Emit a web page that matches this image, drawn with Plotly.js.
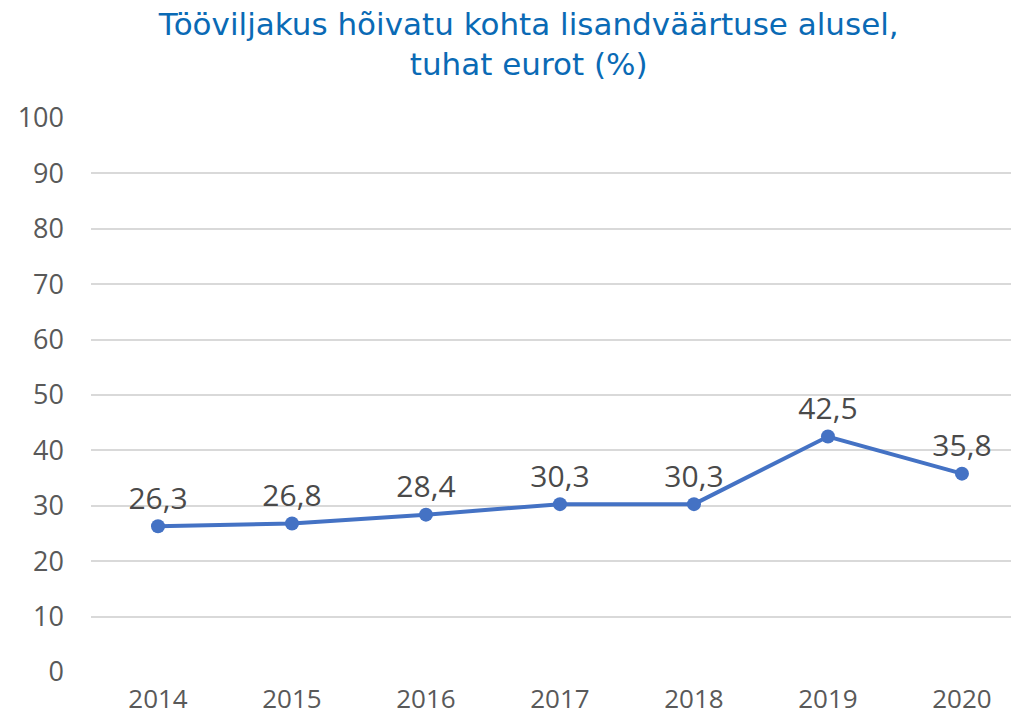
<!DOCTYPE html>
<html>
<head>
<meta charset="utf-8">
<script src="https://cdn.plot.ly/plotly-3.0.1.min.js"></script>
<style>html,body{margin:0;padding:0;background:#fff;}#chart{width:1011px;height:719px;}</style>
</head>
<body>
<div id="chart"></div>
<script>
const years = ['2014','2015','2016','2017','2018','2019','2020'];
const values = [26.3, 26.8, 28.4, 30.3, 30.3, 42.5, 35.8];
const yTicks = [0,10,20,30,40,50,60,70,80,90,100];

const trace = {
  x: years,
  y: values,
  type: 'scatter',
  mode: 'lines+markers+text',
  line: {color: '#4472C4', width: 4},
  marker: {color: '#4472C4', size: 14},
  texttemplate: '%{y:.1f}',
  textposition: 'top center',
  textfont: {family: 'Open Sans, sans-serif', size: 30, color: '#4a4a4a'},
  cliponaxis: false,
  hoverinfo: 'none'
};

const layout = {
  width: 1011, height: 719,
  margin: {l: 91, r: 0, t: 118, b: 47},
  separators: ', ',
  paper_bgcolor: '#fff', plot_bgcolor: '#fff',
  showlegend: false,
  title: {
    text: 'Tööviljakus hõivatu kohta lisandväärtuse alusel,<br>tuhat eurot (%)',
    font: {family: 'DejaVu Sans, sans-serif', size: 31, color: '#0A6AB5'},
    x: 0.523, xanchor: 'center', y: 0.952, yanchor: 'top', yref: 'container'
  },
  xaxis: {
    type: 'category',
    range: [-0.5, 6.366],
    showgrid: false, zeroline: false, showline: false,
    ticks: '',
    tickfont: {family: 'Open Sans, sans-serif', size: 26, color: '#595959'},
    ticklabelstandoff: 9
  },
  yaxis: {
    range: [0, 100],
    tickvals: yTicks,
    ticktext: yTicks.map(String),
    showgrid: true, gridcolor: '#D9D9D9', gridwidth: 2,
    zeroline: false, showline: false,
    ticks: '',
    tickfont: {family: 'Open Sans, sans-serif', size: 27, color: '#595959'},
    ticklabelstandoff: 26
  }
};

Plotly.newPlot('chart', [trace], layout, {staticPlot: true, displayModeBar: false});
</script>
</body>
</html>
